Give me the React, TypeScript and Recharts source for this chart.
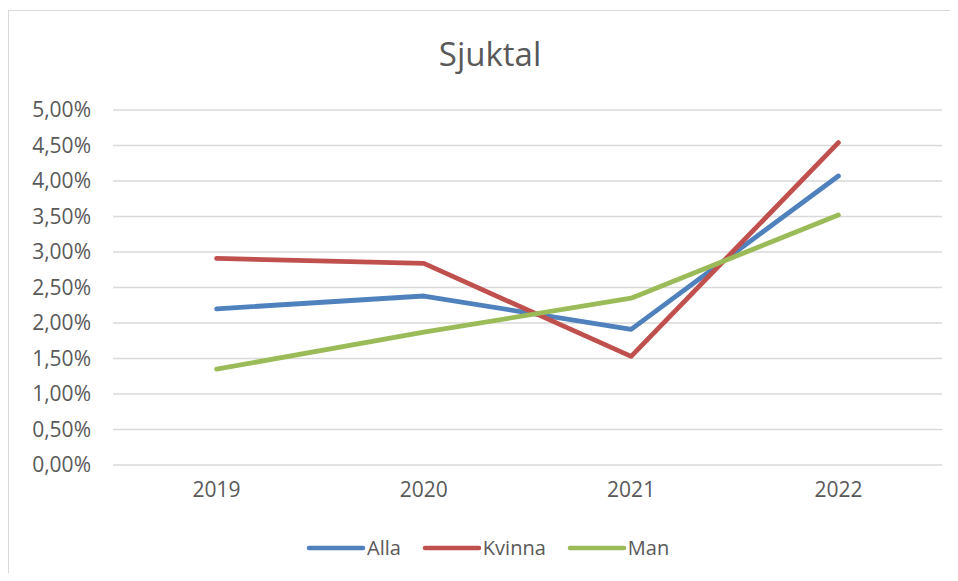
import { LineChart, Line, XAxis, YAxis, CartesianGrid } from 'recharts';

const years = ['2019', '2020', '2021', '2022'];
const alla = [2.2, 2.38, 1.91, 4.07];
const kvinna = [2.91, 2.84, 1.53, 4.54];
const man = [1.35, 1.87, 2.35, 3.52];
const yTicks = [0, 0.5, 1, 1.5, 2, 2.5, 3, 3.5, 4, 4.5, 5];

const series = [
  { key: 'Alla', color: '#4F81BD' },
  { key: 'Kvinna', color: '#C0504D' },
  { key: 'Man', color: '#9BBB59' },
];

const data = years.map((year, i) => ({
  year,
  Alla: alla[i],
  Kvinna: kvinna[i],
  Man: man[i],
}));

const font = '"Open Sans", sans-serif';
const textColor = '#595959';

const fmt = (v: number) => v.toFixed(2).replace('.', ',') + '%';

// legend drawn by hand, outside the chart, so it does not shrink the plot
function LegendRow() {
  return (
    <div
      style={{
        position: 'absolute',
        left: 306,
        top: 534,
        display: 'flex',
        alignItems: 'center',
        fontFamily: font,
        fontSize: 20,
        color: textColor,
        whiteSpace: 'nowrap',
      }}
    >
      {series.map((s) => (
        <div key={s.key} style={{ display: 'flex', alignItems: 'center', marginRight: 21 }}>
          <svg width={60} height={8} style={{ marginRight: 1 }}>
            <line x1={3} y1={4} x2={57} y2={4} stroke={s.color} strokeWidth={4.5} strokeLinecap="round" />
          </svg>
          <span>{s.key}</span>
        </div>
      ))}
    </div>
  );
}

export default function App() {
  return (
    <div style={{ position: 'relative', width: 958, height: 581, margin: -8, background: '#fff', overflow: 'hidden' }}>
      <div
        style={{
          position: 'absolute',
          left: 8,
          top: 10,
          width: 944,
          height: 600,
          border: '1.5px solid #d9d9d9',
          boxSizing: 'border-box',
        }}
      />
      <div
        style={{
          position: 'absolute',
          top: 31,
          left: 0,
          width: 980,
          textAlign: 'center',
          fontFamily: font,
          fontSize: 33,
          color: textColor,
        }}
      >
        Sjuktal
      </div>
      <div style={{ position: 'absolute', left: 0, top: 0 }}>
        <LineChart width={958} height={581} data={data} margin={{ top: 110, right: 16, bottom: 86, left: 0 }}>
          <CartesianGrid vertical={false} stroke="#d9d9d9" strokeWidth={1.5} />
          <XAxis
            dataKey="year"
            height={30}
            padding={{ left: 103.6, right: 103.6 }}
            axisLine={false}
            tickLine={false}
            tickSize={0}
            tickMargin={17}
            tick={{ fill: textColor, fontSize: 21, fontFamily: font }}
          />
          <YAxis
            width={113}
            domain={[0, 5]}
            ticks={yTicks}
            tickFormatter={fmt}
            axisLine={false}
            tickLine={false}
            tickSize={0}
            tickMargin={22}
            tick={{ fill: textColor, fontSize: 21, fontFamily: font }}
          />
          {series.map((s) => (
            <Line
              key={s.key}
              type="linear"
              dataKey={s.key}
              stroke={s.color}
              strokeWidth={4.8}
              strokeLinecap="round"
              strokeLinejoin="round"
              dot={false}
              activeDot={false}
              isAnimationActive={false}
            />
          ))}
        </LineChart>
      </div>
      <LegendRow />
    </div>
  );
}
